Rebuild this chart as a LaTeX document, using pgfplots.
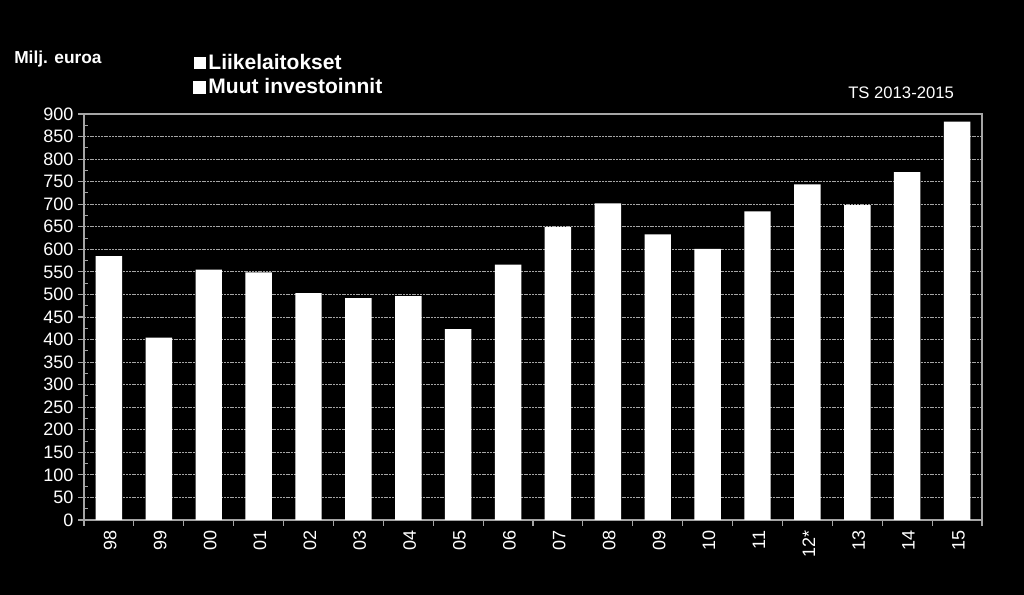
\documentclass[border=0pt]{standalone}
\usepackage{pgfplots}
\pgfplotsset{compat=1.18}
\usepackage{fontspec}
\setmainfont{Liberation Sans}
\definecolor{gridgray}{RGB}{165,165,165}
\begin{document}
\begin{tikzpicture}[x=1pt,y=1pt]
\fill[black] (0,0) rectangle (768,446.25);
\useasboundingbox (0,0) rectangle (768,446.25);
\begin{axis}[
  at={(63pt,56.25pt)}, anchor=south west,
  scale only axis, width=673.5pt, height=304.5pt,
  xmin=-0.5, xmax=17.5, ymin=0, ymax=900,
  ybar, bar width=0.53, bar shift=0pt,
  axis line style={draw=gridgray, line width=0.8pt},
  tick style={draw=gridgray, line width=0.8pt},
  xtick pos=bottom, ytick pos=left,
  tick align=outside, major tick length=4.5pt,
  xtick={-0.5,0.5,...,17.5}, xticklabels={},
  extra x ticks={0,1,...,17},
  extra x tick labels={98,99,00,01,02,03,04,05,06,07,08,09,10,11,12*,13,14,15},
  extra x tick style={tick style={draw=none}, tick label style={rotate=90, anchor=east, xshift=0pt, yshift=-1pt}},
  ytick={0,50,...,900},
  extra y ticks={25,75,...,875}, extra y tick labels={},
  extra y tick style={grid=none, tick align=inside, major tick length=3pt},
  ymajorgrids=true,
  major grid style={draw=gridgray, line width=0.6pt, dash pattern=on 1.5pt off 0.6pt},
  /pgf/number format/assume math mode=true,
  tick label style={font=\fontsize{13.5}{16}\selectfont, text=white},
  legend style={at={(0.1214,1.155)}, anchor=north west, draw=none, fill=none,
    text=white, font=\fontsize{15.75}{18}\selectfont\bfseries,
    inner sep=0pt, row sep=1.5pt, column sep=0pt,
    cells={anchor=west}},
  legend image code/.code={\fill[white] (0pt,-4.5pt) rectangle (9pt,4.5pt);},
]
\addplot[fill=white, draw=none] coordinates {
(0,585) (1,404) (2,555) (3,549) (4,503) (5,492) (6,496) (7,423) (8,566)
(9,650) (10,702) (11,633) (12,601) (13,684) (14,744) (15,698) (16,771) (17,883)};
\addlegendentry{Liikelaitokset}
\addlegendimage{}
\addlegendentry{Muut investoinnit}
\end{axis}
\node[anchor=west, text=white, font=\fontsize{13}{15}\selectfont\bfseries, inner sep=0pt] at (10.5,402) {Milj. euroa};
\node[anchor=west, text=white, font=\fontsize{12.5}{15}\selectfont, inner sep=0pt] at (636,376.5) {TS 2013-2015};
\end{tikzpicture}
\end{document}
